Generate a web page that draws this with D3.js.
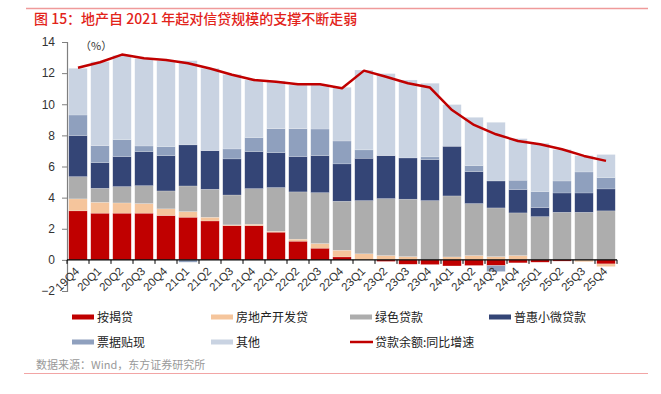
<!DOCTYPE html>
<html>
<head>
<meta charset="utf-8">
<script src="https://cdn.jsdelivr.net/npm/d3@7"></script>
<style>
  body { margin: 0; background: #fff; }
  svg { display: block; }
</style>
</head>
<body>
<svg id="chart" width="661" height="394"></svg>
<script>
// quarters on the x axis
const quarters = ["19Q4","20Q1","20Q2","20Q3","20Q4","21Q1","21Q2","21Q3","21Q4",
  "22Q1","22Q2","22Q3","22Q4","23Q1","23Q2","23Q3","23Q4",
  "24Q1","24Q2","24Q3","24Q4","25Q1","25Q2","25Q3","25Q4"];

// contribution of each loan type to loan growth (pct points)
const mortgage = [3.15,3.0,3.0,3.0,2.85,2.74,2.5,2.2,2.2,1.78,1.2,0.75,0.19,0,-0.1,-0.28,-0.3,-0.39,-0.36,-0.36,-0.19,-0.15,-0.08,0,-0.26];
const developer = [0.77,0.7,0.66,0.62,0.43,0.36,0.24,0.05,0.09,0.06,0.13,0.3,0.43,0.39,0.28,0.21,0,0.19,0.28,0.21,0.28,0,0,-0.12,-0.17];
const green = [1.43,0.9,1.05,1.15,1.15,1.65,1.8,1.92,2.29,2.81,3.04,3.27,3.15,3.42,3.66,3.69,3.81,3.92,3.34,3.13,2.74,2.78,3.06,3.06,3.15];
const inclusive = [2.64,1.65,1.93,2.19,2.27,2.64,2.48,2.32,2.38,2.24,2.27,2.38,2.4,2.72,2.76,2.65,2.63,3.19,2.05,1.73,1.5,0.58,1.24,1.24,1.41];
const bills = [1.32,1.09,1.09,0.36,0.58,-0.15,0,0.64,0.9,1.54,1.79,1.71,1.47,0.54,0,0,0.18,0,0.39,-0.39,0.6,1.03,0.77,1.35,0.73];
const others = [3.0,5.4,5.41,5.63,5.52,5.41,5.29,4.79,3.7,3.07,2.81,2.83,3.45,5.13,5.27,5.01,4.73,2.68,3.1,3.77,2.67,3.1,2.02,1.05,1.48];

// loan balance yoy growth (%)
const loanGrowth = [12.35,12.7,13.19,12.95,12.85,12.63,12.3,11.9,11.56,11.45,11.28,11.28,11.03,12.16,11.77,11.35,11.07,9.63,8.67,8.07,7.64,7.43,7.11,6.68,6.36];

const seriesNames = ["按揭贷","房地产开发贷","绿色贷款","普惠小微贷款","票据贴现","其他"];
const seriesColors = ["#c00000","#f5c59c","#adadad","#344576","#8fa0be","#c9d3e2"];
const lineName = "贷款余额:同比增速";
const yTicks = [-2,0,2,4,6,8,10,12,14];

const seriesValues = [mortgage, developer, green, inclusive, bills, others];
const table = quarters.map((q, i) => {
    const row = { q };
    seriesNames.forEach((n, k) => { row[n] = seriesValues[k][i]; });
    return row;
});

const svg = d3.select("#chart");
const numFont = "'Liberation Sans', Arial, sans-serif";
const cjkFont = "'Noto Sans CJK SC', 'Noto Sans', sans-serif";

// top rule and title
svg.append("line")
    .attr("x1", 26).attr("x2", 648).attr("y1", 8.5).attr("y2", 8.5)
    .attr("stroke", "#ef9a9a").attr("stroke-width", 1.5);
svg.append("text")
    .attr("x", 34).attr("y", 24)
    .attr("fill", "#e2231a")
    .style("font-family", cjkFont)
    .style("font-size", "14px")
    .style("font-weight", "500")
    .text("图 15：地产自 2021 年起对信贷规模的支撑不断走弱");

// scales
const x = d3.scaleBand().domain(quarters).range([67, 617]).paddingInner(0.16).paddingOuter(0.08);
const y = d3.scaleLinear().domain([-2, 14]).range([291, 42]);

// stacked bars, negatives go below zero
const stacked = d3.stack().keys(seriesNames).offset(d3.stackOffsetDiverging)(table);

const layers = svg.append("g").selectAll("g")
    .data(stacked)
    .join("g")
    .attr("fill", (d, i) => seriesColors[i]);

layers.selectAll("rect")
    .data(d => d)
    .join("rect")
    .attr("x", d => x(d.data.q))
    .attr("width", x.bandwidth())
    .attr("y", d => y(Math.max(d[0], d[1])))
    .attr("height", d => Math.abs(y(d[0]) - y(d[1])))
    .attr("stroke", "rgba(255,255,255,0.35)")
    .attr("stroke-width", 0.5);

// y axis
const yAxis = svg.append("g")
    .attr("transform", "translate(67,0)")
    .call(d3.axisLeft(y).tickValues(yTicks).tickSize(5).tickFormat(d3.format("d")));
yAxis.select(".domain").attr("stroke", "#7f7f7f").attr("stroke-width", 1.2);
yAxis.selectAll(".tick line").attr("stroke", "#7f7f7f");
yAxis.selectAll("text")
    .attr("x", -12)
    .attr("fill", "#333")
    .style("font-family", numFont)
    .style("font-size", "12px");

svg.append("text")
    .attr("x", 80).attr("y", 50)
    .attr("fill", "#333")
    .style("font-family", cjkFont)
    .style("font-size", "11px")
    .text("（%）");

// x axis at zero, ticks on band edges
const xg = svg.append("g");
xg.append("line")
    .attr("x1", 67).attr("x2", 617)
    .attr("y1", y(0)).attr("y2", y(0))
    .attr("stroke", "#000").attr("stroke-width", 1.2);
const edges = quarters.map(q => x(q) - x.step() * x.paddingInner() / 2).concat([617]);
xg.selectAll("line.tk")
    .data(edges)
    .join("line")
    .attr("class", "tk")
    .attr("x1", d => d).attr("x2", d => d)
    .attr("y1", y(0)).attr("y2", y(0) + 4)
    .attr("stroke", "#000");
xg.selectAll("text")
    .data(quarters)
    .join("text")
    .attr("transform", d => `translate(${x(d) + x.bandwidth() / 2 + 2},${y(0) + 12}) rotate(-45)`)
    .attr("text-anchor", "end")
    .attr("fill", "#333")
    .style("font-family", numFont)
    .style("font-size", "11.5px")
    .text(d => d);

// growth line
const line = d3.line()
    .x((d, i) => x(quarters[i]) + x.bandwidth() / 2)
    .y(d => y(d));
svg.append("path")
    .datum(loanGrowth)
    .attr("d", line)
    .attr("fill", "none")
    .attr("stroke", "#c00000")
    .attr("stroke-width", 2.5)
    .attr("stroke-linejoin", "round");

// legend
const legendPos = [[72,317],[211,317],[350,317],[489,317],[72,342],[211,342]];
const lg = svg.append("g");
seriesNames.forEach((n, i) => {
    const [lx, ly] = legendPos[i];
    lg.append("rect")
        .attr("x", lx).attr("y", ly - 2.5).attr("width", 22).attr("height", 5)
        .attr("fill", seriesColors[i]);
    lg.append("text")
        .attr("x", lx + 25).attr("y", ly + 4.5)
        .attr("fill", "#222")
        .style("font-family", cjkFont)
        .style("font-size", "12px")
        .text(n);
});
lg.append("line")
    .attr("x1", 350).attr("x2", 373).attr("y1", 342).attr("y2", 342)
    .attr("stroke", "#c00000").attr("stroke-width", 2.5);
lg.append("text")
    .attr("x", 375).attr("y", 346.5)
    .attr("fill", "#222")
    .style("font-family", cjkFont)
    .style("font-size", "12px")
    .text(lineName);

// source and bottom rule
svg.append("text")
    .attr("x", 36).attr("y", 369)
    .attr("fill", "#999")
    .style("font-family", cjkFont)
    .style("font-size", "11px")
    .text("数据来源：Wind，东方证券研究所");
svg.append("line")
    .attr("x1", 24).attr("x2", 648).attr("y1", 373.5).attr("y2", 373.5)
    .attr("stroke", "#f2a5a5").attr("stroke-width", 1.2);
</script>
</body>
</html>
